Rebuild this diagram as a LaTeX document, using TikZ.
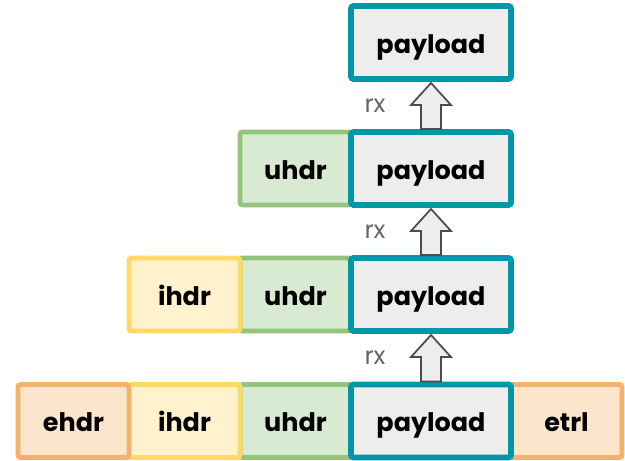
\documentclass[tikz,border=0pt]{standalone}
\usepackage{fontspec}
\setmainfont{Poppins}
\usetikzlibrary{positioning,calc}

\definecolor{payline}{HTML}{0097A7}
\definecolor{payfill}{HTML}{EDEDED}
\definecolor{uline}{HTML}{93C47D}
\definecolor{ufill}{HTML}{D9EAD3}
\definecolor{iline}{HTML}{FFD966}
\definecolor{ifill}{HTML}{FFF2CC}
\definecolor{eline}{HTML}{F6B26B}
\definecolor{efill}{HTML}{FCE5CD}
\definecolor{rxgray}{HTML}{666666}

\tikzset{
  seg/.style={draw, rounded corners=1.5pt, outer sep=0pt, line width=2.8pt,
    minimum width=2.22cm, minimum height=1.46cm, text height=12.5pt, text depth=0pt,
    font=\bfseries\fontsize{14.5}{17}\selectfont},
  pay/.style={seg, draw=payline, fill=payfill, line width=3.3pt, minimum width=3.2cm},
  uhdr/.style={seg, draw=uline, fill=ufill},
  ihdr/.style={seg, draw=iline, fill=ifill},
  ehdr/.style={seg, draw=eline, fill=efill},
  uparrow/.style={draw=black!70, fill=payfill, line width=1pt, line join=miter},
  rxlabel/.style={text=rxgray, font=\fontsize{14}{16}\selectfont}
}

\begin{document}
\begin{tikzpicture}
  \useasboundingbox (0,0) rectangle (12.5,-9.22);

  % Fixed coordinates
  \coordinate (c1) at (8.62,-0.85);
  \coordinate (c2) at (8.62,-3.37);
  \coordinate (c3) at (8.62,-5.89);
  \coordinate (c4) at (8.62,-8.42);

  % headers and trailer around the payload
  \node (u2) [uhdr, left=1.6cm of c2] {uhdr};
  \node (u3) [uhdr, left=1.6cm of c3] {uhdr};
  \node (i3) [ihdr, left=0pt of u3] {ihdr};
  \node (u4) [uhdr, left=1.6cm of c4] {uhdr};
  \node (i4) [ihdr, left=0pt of u4] {ihdr};
  \node (e4) [ehdr, left=0pt of i4] {ehdr};
  \node (t4) [ehdr, right=1.6cm of c4] {etrl};

  % payload last, so its border sits on top
  \foreach \r in {1,...,4}
    \node (p\r) at (c\r) [pay] {payload};

  % rx arrows
  \foreach \lo/\up in {4/3,3/2,2/1} {
    \draw[uparrow] ($(p\up.south)+(0,-0.08)$) -- ++(0.4,-0.44) coordinate (hr\up)
      -- ++(-0.2,0) |- ($(p\lo.north)+(0.2,0.06)$) -- ++(-0.4,0)
      |- ($(hr\up)+(-0.6,0)$) -- ++(-0.2,0) -- cycle;
    \node (rx\up) [rxlabel] at ($(p\up.south)!0.5!(p\lo.north)+(-1.12,0)$) {rx};
  }
\end{tikzpicture}
\end{document}
